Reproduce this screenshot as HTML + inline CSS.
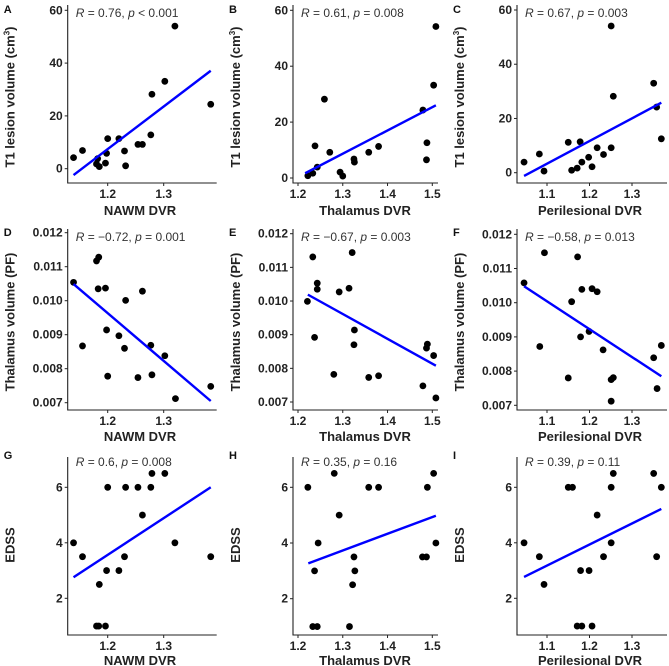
<!DOCTYPE html>
<html><head><meta charset="utf-8"><style>
html,body{margin:0;padding:0;background:#fff;}
svg{display:block;font-family:"Liberation Sans",Arial,sans-serif;}
</style></head><body>
<svg id="fig" width="669" height="666" viewBox="0 0 669 666" xmlns="http://www.w3.org/2000/svg"></svg>
<script>
// ---- data ----
const aX=[1.139,1.155,1.182,1.180,1.185,1.196,1.198,1.200,1.220,1.230,1.232,1.254,1.262,1.277,1.279,1.302,1.320,1.384];
const aY=[4.2,6.9,3.8,1.8,0.8,2.1,5.8,11.4,11.4,6.7,1.1,9.2,9.2,12.8,28.2,33.1,54.0,24.4];
const aFit=[1.139,1.384,-2.4,37.1];
const bX=[1.222,1.233,1.238,1.243,1.259,1.271,1.294,1.300,1.325,1.326,1.358,1.380,1.479,1.488,1.487,1.503,1.508];
const bY=[0.8,1.7,11.5,3.9,28.2,9.2,2.1,0.7,6.8,5.7,9.2,11.3,24.3,12.6,6.5,33.2,54.2];
const bFit=[1.216,1.508,1.7,26.0];
const cX=[1.046,1.082,1.093,1.150,1.158,1.171,1.178,1.182,1.198,1.206,1.218,1.233,1.251,1.251,1.256,1.351,1.358,1.369];
const cY=[3.9,6.9,0.6,11.2,0.9,1.7,11.4,3.9,5.7,2.2,9.2,6.7,54.1,9.2,28.2,33.0,24.2,12.5];
const cFit=[1.046,1.369,-1.2,25.8];
const dX=[1.139,1.155,1.180,1.184,1.183,1.196,1.198,1.200,1.220,1.230,1.232,1.254,1.262,1.277,1.279,1.302,1.321,1.384];
const dY=[0.01054,0.00867,0.01117,0.01128,0.01035,0.01037,0.00914,0.00778,0.00897,0.00860,0.01001,0.00774,0.01028,0.00869,0.00782,0.00838,0.00712,0.00748];
const dFit=[1.139,1.384,0.01049,0.00705];
const eX=[1.221,1.233,1.237,1.243,1.243,1.280,1.292,1.314,1.321,1.326,1.325,1.358,1.380,1.479,1.487,1.489,1.503,1.508];
const eY=[0.00999,0.01131,0.00892,0.01035,0.01053,0.00782,0.01027,0.01038,0.01144,0.00914,0.00870,0.00773,0.00778,0.00748,0.00860,0.00872,0.00838,0.00712];
const eFit=[1.222,1.508,0.01019,0.00808];
const fX=[1.046,1.083,1.094,1.150,1.158,1.172,1.179,1.182,1.199,1.206,1.218,1.232,1.251,1.256,1.251,1.351,1.359,1.369];
const fY=[0.01058,0.00872,0.01146,0.00780,0.01003,0.01134,0.00900,0.01039,0.00916,0.01041,0.01032,0.00862,0.00775,0.00781,0.00712,0.00839,0.00749,0.00875];
const fFit=[1.046,1.369,0.01048,0.00785];
const gX=[1.139,1.155,1.185,1.180,1.184,1.196,1.198,1.200,1.220,1.230,1.232,1.254,1.262,1.277,1.279,1.302,1.320,1.384];
const gY=[4,3.5,2.5,1,1,1,3,6,3,3.5,6,6,5,6,6.5,6.5,4,3.5];
const gFit=[1.139,1.384,2.76,6.0];
const hX=[1.222,1.233,1.237,1.243,1.245,1.281,1.292,1.315,1.322,1.325,1.327,1.358,1.380,1.478,1.487,1.489,1.503,1.508];
const hY=[6,1,3,1,4,6.5,5,1,2.5,3.5,3,6,6,3.5,3.5,6,6.5,4];
const hFit=[1.223,1.508,3.27,4.98];
const iX=[1.046,1.082,1.093,1.150,1.160,1.171,1.179,1.182,1.199,1.206,1.218,1.233,1.251,1.251,1.256,1.351,1.358,1.369];
const iY=[4,3.5,2.5,6,6,1,3,1,3,1,5,3.5,6,4,6.5,6.5,3.5,6];
const iFit=[1.046,1.369,2.77,5.22];
const xTicksNAWM=["1.2","1.3"];
const xTicksThal=["1.2","1.3","1.4","1.5"];
const xTicksPeri=["1.1","1.2","1.3"];
const yTicksT1=["0","20","40","60"];
const yTicksPF=["0.007","0.008","0.009","0.010","0.011","0.012"];
const yTicksEDSS=["2","4","6"];
const statA="0.76, |p| < 0.001", statB="0.61, |p| = 0.008", statC="0.67, |p| = 0.003";
const statD="\u22120.72, |p| = 0.001", statE="\u22120.67, |p| = 0.003", statF="\u22120.58, |p| = 0.013";
const statG="0.6, |p| = 0.008", statH="0.35, |p| = 0.16", statI="0.39, |p| = 0.11";

const NS="http://www.w3.org/2000/svg";
const svg=document.getElementById('fig');
function mk(tag,attrs,parent){const e=document.createElementNS(NS,tag);for(const k in attrs)e.setAttribute(k,attrs[k]);(parent||svg).appendChild(e);return e;}
function lin(v0,p0,v1,p1){return v=>p0+(v-v0)*(p1-p0)/(v1-v0);}

const cols=[
 {left:67.7,right:216.7,xc:[1.2,107.7,1.3,163.7],ticks:xTicksNAWM,title:"NAWM DVR",tx:140},
 {left:293,right:438,xc:[1.2,298,1.5,432.3],ticks:xTicksThal,title:"Thalamus DVR",tx:365},
 {left:517,right:667,xc:[1.1,547,1.3,632],ticks:xTicksPeri,title:"Perilesional DVR",tx:590}];
const rows=[
 {top:5,bottom:183,ann:17,let:13,xt:215,yt:97,ytitle:"T1",ticks:yTicksT1},
 {top:229,bottom:410,ann:241,let:236,xt:441,yt:322,ytitle:"Thalamus volume (PF)",ticks:yTicksPF},
 {top:457,bottom:635,ann:466,let:459,xt:665,yt:545,ytitle:"EDSS",ticks:yTicksEDSS}];
const ycal=[
 [[0,168.7,60,10.3],[0,178,60,10.3],[0,172.7,60,10]],
 [[0.007,402.7,0.012,232.7],[0.007,402,0.012,233.7],[0.007,405.3,0.012,234.3]],
 [[2,598.3,6,487.3],[2,598.7,6,487.3],[2,598.3,6,487.3]]];
const panels=[[ [aX,aY,aFit,statA],[bX,bY,bFit,statB],[cX,cY,cFit,statC] ],
 [ [dX,dY,dFit,statD],[eX,eY,eFit,statE],[fX,fY,fFit,statF] ],
 [ [gX,gY,gFit,statG],[hX,hY,hFit,statH],[iX,iY,iFit,statI] ]];
const letters="ABCDEFGHI";

for(let r=0;r<3;r++)for(let c=0;c<3;c++){
 const C=cols[c],R=rows[r],P=panels[r][c],L=letters[r*3+c];
 const sx=lin(...C.xc), sy=lin(...ycal[r][c]);
 const g=mk('g',{});
 
 
 const lt=mk('text',{x:C.left-64,y:R.let,'font-size':11,'font-weight':'bold',fill:'#111'},g);lt.textContent=L;
 
 
 const ax=mk('path',{d:`M${C.left},${R.top}V${R.bottom}H${C.right}`,stroke:'#222',fill:'none','stroke-width':1.1},g);
 
 
 R.ticks.forEach(t=>{const y=sy(parseFloat(t));
  mk('line',{x1:C.left-3,x2:C.left,y1:y,y2:y,stroke:'#222','stroke-width':1},g);
  const tt=mk('text',{x:C.left-5,y:y+4,'font-size':12,'font-weight':'bold','text-anchor':'end',fill:'#222'},g);tt.textContent=t;
  
  });
 C.ticks.forEach(t=>{const x=sx(parseFloat(t));
  mk('line',{x1:x,x2:x,y1:R.bottom,y2:R.bottom+3,stroke:'#222','stroke-width':1},g);
  const tt=mk('text',{x:x,y:R.bottom+15,'font-size':12,'font-weight':'bold','text-anchor':'middle',fill:'#222'},g);tt.textContent=t;
  
  });
 const xt=mk('text',{x:C.tx,y:R.xt,'font-size':13,'font-weight':'bold','text-anchor':'middle',fill:'#222'},g);xt.textContent=C.title;
 
 
 const yx=C.left-53;
 const yt=mk('text',{x:yx,y:R.yt,'font-size':13,'font-weight':'bold','text-anchor':'middle',fill:'#222',transform:`rotate(-90 ${yx} ${R.yt})`},g);
 
 
 if(r===0){yt.textContent='T1 lesion volume (cm';const s=mk('tspan',{'font-size':8,dy:-5},yt);s.textContent='3';const s2=mk('tspan',{dy:5},yt);s2.textContent=')';}
 else yt.textContent=R.ytitle;
 const parts=P[3].split('|');
 const an=mk('text',{x:C.left+8,y:R.ann,'font-size':12,fill:'#333'},g);
 
 
 let s=mk('tspan',{'font-style':'italic'},an);s.textContent='R';
 s=mk('tspan',{},an);s.textContent=' = '+parts[0];
 s=mk('tspan',{'font-style':'italic'},an);s.textContent=parts[1];
 s=mk('tspan',{},an);s.textContent=parts[2];
 P[0].forEach((xv,i)=>{const d=mk('circle',{cx:sx(xv),cy:sy(P[1][i]),r:3.4,fill:'#000'},g);
  
  });
 const f=P[2];
 const fl=mk('line',{x1:sx(f[0]),y1:sy(f[2]),x2:sx(f[1]),y2:sy(f[3]),stroke:'#0000ff','stroke-width':2.4},g);
 
 
}
</script>
</body></html>
